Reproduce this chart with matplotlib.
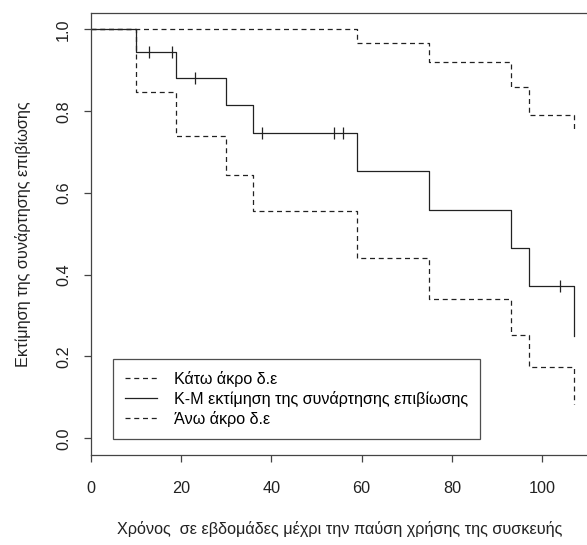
import matplotlib
matplotlib.use("Agg")
import matplotlib.pyplot as plt

plt.rcParams['font.family'] = ['Liberation Sans', 'DejaVu Sans']

# Kaplan-Meier estimate (IUD discontinuation data)
times = [0, 10, 19, 30, 36, 59, 75, 93, 97, 107]
surv = [1.0, 0.944, 0.881, 0.814, 0.746, 0.653, 0.559, 0.466, 0.373, 0.249]
lower = [1.0, 0.847, 0.740, 0.645, 0.557, 0.442, 0.341, 0.253, 0.175, 0.085]
upper = [1.0, 1.0, 1.0, 1.0, 1.0, 0.967, 0.920, 0.859, 0.790, 0.753]

cens_times = [13, 18, 23, 38, 54, 56, 104]
cens_surv = [0.944, 0.944, 0.881, 0.746, 0.746, 0.746, 0.373]

xticks = [0, 20, 40, 60, 80, 100]
yticks = [0.0, 0.2, 0.4, 0.6, 0.8, 1.0]

labels = ["Κάτω άκρο δ.ε", "Κ-Μ εκτίμηση της συνάρτησης επιβίωσης", "Άνω άκρο δ.ε"]


def steps(t, s):
    # step function drawn like R: horizontal then vertical, ending with the last drop
    xs, ys = [t[0]], [s[0]]
    for i in range(1, len(t)):
        xs += [t[i], t[i]]
        ys += [s[i - 1], s[i]]
    return xs, ys


fig = plt.figure(figsize=(5.87, 5.45), dpi=100)
ax = fig.add_axes([0.1545, 0.1651, 0.849, 0.8116])

lc = '#222222'
x, y = steps(times, lower)
l1, = ax.plot(x, y, color=lc, lw=0.9, dashes=(4, 3))
x, y = steps(times, surv)
l2, = ax.plot(x, y, color=lc, lw=0.9)
x, y = steps(times, upper)
l3, = ax.plot(x, y, color=lc, lw=0.9, dashes=(4, 3))
ax.plot(cens_times, cens_surv, ls='none', marker='|', ms=8.5, mew=0.9, color=lc)

ax.set_xlim(0, 110.4)
ax.set_ylim(-0.041, 1.041)
ax.set_xticks(xticks)
ax.set_xticklabels([str(v) for v in xticks])
ax.set_yticks(yticks)
ax.set_yticklabels(["%.1f" % v for v in yticks], rotation=90, va='center')
ax.tick_params(length=5, width=0.9, color='#444444', labelsize=11.7, labelcolor='#222222')
ax.tick_params(axis='x', pad=14)
ax.tick_params(axis='y', pad=9)

for s in ['left', 'bottom', 'top']:
    ax.spines[s].set_color('#444444')
    ax.spines[s].set_linewidth(0.9)
ax.spines['right'].set_visible(False)

ax.set_xlabel("Χρόνος  σε εβδομάδες μέχρι την παύση χρήσης της συσκευής", fontsize=11.7, labelpad=18, color='#222222')
ax.set_ylabel("Εκτίμηση της συνάρτησης επιβίωσης", fontsize=11.7, labelpad=18.5, color='#222222')

leg = ax.legend([l1, l2, l3], labels, loc='lower left', bbox_to_anchor=(0.045, 0.036),
                fontsize=11.6, frameon=True, fancybox=False, handlelength=2.0,
                borderpad=0.75, labelspacing=0.25, handletextpad=1.0, borderaxespad=0)
leg.get_frame().set_edgecolor('#222222')
leg.get_frame().set_linewidth(0.9)

fig.savefig("out.png", dpi=100)
